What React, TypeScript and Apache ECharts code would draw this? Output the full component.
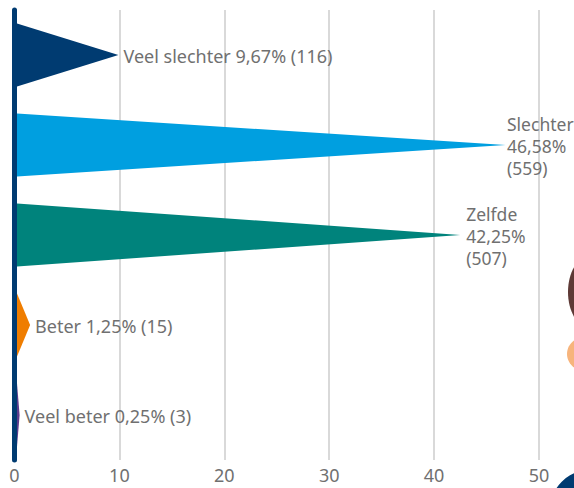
import React, { useEffect, useRef } from "react";
import * as echarts from "echarts";

const categories = ["Veel slechter", "Slechter", "Zelfde", "Beter", "Veel beter"];
const percentages = [9.67, 46.58, 42.25, 1.25, 0.25];
const counts = [116, 559, 507, 15, 3];
const colors = ["#003b71", "#009fe0", "#00837c", "#ef7d00", "#5b3b8c"];
const wrapLabel = [false, true, true, false, false];
const xTicks = [0, 10, 20, 30, 40, 50];

const fmt = (v: number) => v.toFixed(2).replace(".", ",") + "%";

export default function App() {
  const ref = useRef<HTMLDivElement>(null);
  useEffect(() => {
    const chart = echarts.init(ref.current!, null, { renderer: "svg" });
    const font = "'Noto Sans', sans-serif";
    chart.setOption({
      animation: false,
      grid: { left: 14.5, right: 35, top: 10, bottom: 28, containLabel: false },
      xAxis: {
        type: "value",
        min: xTicks[0],
        max: xTicks[xTicks.length - 1],
        interval: 10,
        axisLine: { show: false },
        axisTick: { show: false },
        splitLine: { lineStyle: { color: "#cccccc", width: 1.5 } },
        axisLabel: { color: "#707070", fontSize: 18, fontFamily: font, margin: 6 },
      },
      yAxis: {
        type: "category",
        data: categories,
        inverse: true,
        z: 10,
        axisLine: { show: true, lineStyle: { color: "#003b71", width: 5 } },
        axisTick: { show: false },
        axisLabel: { show: false },
        splitLine: { show: false },
      },
      series: [
        {
          type: "custom",
          encode: { x: 0, y: 1 },
          data: percentages.map((p, i) => [p, i]),
          renderItem: (params: any, api: any) => {
            const i = params.dataIndex;
            const v = api.value(0);
            const idx = api.value(1);
            const off = 2.5;
            const base = api.coord([0, idx]);
            const tip = api.coord([v, idx]);
            const h = api.size([0, 1])[1] * 0.7;
            const label = wrapLabel[i]
              ? `${categories[i]}\n${fmt(percentages[i])}\n(${counts[i]})`
              : `${categories[i]} ${fmt(percentages[i])} (${counts[i]})`;
            const lx = wrapLabel[i]
              ? Math.min(tip[0] + off + 6, 574 - 67)
              : tip[0] + off + 5;
            return {
              type: "group",
              children: [
                {
                  type: "polygon",
                  shape: {
                    points: [
                      [base[0] + off, base[1] - h / 2],
                      [tip[0] + off, tip[1]],
                      [base[0] + off, base[1] + h / 2],
                    ],
                  },
                  style: { fill: colors[i] },
                },
                {
                  type: "text",
                  x: lx,
                  y: tip[1] + 1,
                  style: {
                    text: label,
                    fill: "#707070",
                    fontSize: wrapLabel[i] ? 17.5 : 18,
                    fontFamily: font,
                    align: "left",
                    verticalAlign: "middle",
                    lineHeight: 22,
                  },
                },
              ],
            };
          },
        },
      ],
      graphic: [
        { type: "ellipse", shape: { cx: 593, cy: 292, rx: 25, ry: 38 }, style: { fill: "#5e3a36" }, silent: true },
        { type: "ellipse", shape: { cx: 585, cy: 354, rx: 18, ry: 17 }, style: { fill: "#f7b47c" }, silent: true },
        { type: "circle", shape: { cx: 590, cy: 510, r: 40 }, style: { fill: "#003b71" }, silent: true },
      ],
    });
    return () => chart.dispose();
  }, []);
  return (
    <div
      ref={ref}
      style={{ position: "absolute", left: 0, top: 0, width: 574, height: 488 }}
    />
  );
}
